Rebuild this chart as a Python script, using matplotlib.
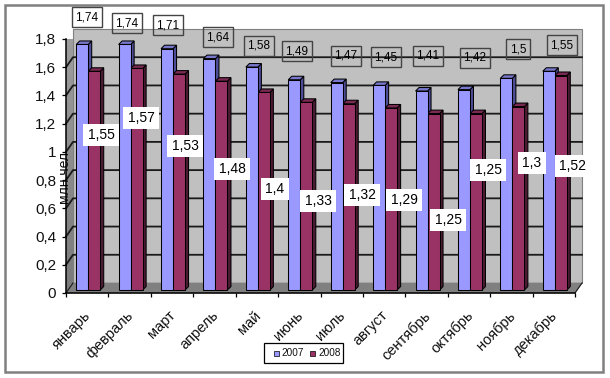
import matplotlib
matplotlib.use("Agg")
import matplotlib.pyplot as plt
import numpy as np
from matplotlib.patches import Polygon, Rectangle
from matplotlib.transforms import Affine2D

plt.rcParams['font.family'] = ['Liberation Sans', 'DejaVu Sans']

months = ["январь", "февраль", "март", "апрель", "май", "июнь", "июль",
          "август", "сентябрь", "октябрь", "ноябрь", "декабрь"]
v2007 = [1.74, 1.74, 1.71, 1.64, 1.58, 1.49, 1.47, 1.45, 1.41, 1.42, 1.5, 1.55]
v2008 = [1.55, 1.57, 1.53, 1.48, 1.4, 1.33, 1.32, 1.29, 1.25, 1.25, 1.3, 1.52]
yticks = [0, 0.2, 0.4, 0.6, 0.8, 1, 1.2, 1.4, 1.6, 1.8]

# hand placed label centres, in image pixels
pos2007 = [(87, 17), (127, 23), (168, 25), (218, 37), (259, 46), (297, 51),
           (346, 56), (386, 57), (428, 56), (475, 58), (518, 49), (562, 45)]
pos2008 = [(101, 135), (141, 118), (185, 146), (232, 169), (275, 189), (318, 201),
           (362, 195), (404, 200), (448, 220), (488, 170), (532, 163), (573, 166)]

W, H = 610, 378
L, R, T, B = 66, 575, 39, 293
sx = (R - L) / 12.0   # px per category
sy = (B - T) / 1.8    # px per unit

wall_dx, wall_dy = 7 / sx, 10 / sy
bar_dx, bar_dy = 1 / sx, 3 / sy
dep_x, dep_y = 3.5 / sx, 3.5 / sy
bar_w = 12 / sx


def fmt(v):
    return str(v).replace(".", ",")


def draw_bar(ax, x, v, face, top, side):
    x0 = x + bar_dx
    y0 = bar_dy
    y1 = v + bar_dy
    ax.add_patch(Polygon([(x0 + bar_w, y0), (x0 + bar_w + dep_x, y0 + dep_y),
                          (x0 + bar_w + dep_x, y1 + dep_y), (x0 + bar_w, y1)],
                         fc=side, ec="black", lw=0.75, zorder=4, clip_on=False))
    ax.add_patch(Polygon([(x0, y1), (x0 + dep_x, y1 + dep_y),
                          (x0 + bar_w + dep_x, y1 + dep_y), (x0 + bar_w, y1)],
                         fc=top, ec="black", lw=0.75, zorder=4, clip_on=False))
    ax.bar(x0, v, bar_w, bottom=y0, align="edge", color=face, ec="black", lw=0.75,
           zorder=5, clip_on=False)


fig = plt.figure(figsize=(W / 100, H / 100), dpi=100, facecolor="white")
ax = fig.add_axes([L / W, 1 - B / H, (R - L) / W, (B - T) / H])
ax.patch.set_visible(False)
px = Affine2D().scale(1, -1).translate(0, H)

# outer frame of the chart area
fig.add_artist(Rectangle((5, 5), 598, 367, transform=px, fc="white", ec="#808080", lw=1.8,
                         zorder=-5))

# walls and floor
ax.add_patch(Rectangle((wall_dx, wall_dy), 12, 1.8, fc="#C0C0C0", ec="#808080", lw=0.8,
                       zorder=1, clip_on=False))
side_wall = Polygon([(0, 0), (wall_dx, wall_dy), (wall_dx, 1.8 + wall_dy), (0, 1.8)],
                    fc="none", ec="none", transform=ax.transData, clip_on=False)
ax.add_patch(side_wall)
shade = ax.imshow(np.linspace(0.62, 0.48, 64).reshape(-1, 1), cmap="gray", vmin=0, vmax=1,
                  extent=(0, wall_dx, 0, 1.8 + wall_dy), origin="upper", aspect="auto", zorder=1)
shade.set_clip_path(side_wall)
ax.add_patch(Polygon([(0, 0), (12, 0), (12 + wall_dx, wall_dy), (wall_dx, wall_dy)],
                     fc="#808080", ec="#808080", lw=0.5, zorder=1, clip_on=False))
for t in yticks[1:-1]:
    ax.plot([0, wall_dx, 12 + wall_dx], [t, t + wall_dy, t + wall_dy], color="#1a1a1a",
            lw=1.3, zorder=2, clip_on=False)
ax.plot([0, wall_dx], [0, wall_dy], color="#1a1a1a", lw=0.8, zorder=2, clip_on=False)
ax.plot([12, 12 + wall_dx], [0, wall_dy], color="#1a1a1a", lw=0.8, zorder=2, clip_on=False)

for i in range(12):
    x = i + 0.5
    draw_bar(ax, x - bar_w, v2007[i], "#9999FF", "#7777CC", "#4D4D99")
    draw_bar(ax, x, v2008[i], "#993366", "#7A2952", "#4D1A33")

ax.set_xlim(0, 12)
ax.set_ylim(0, 1.8)

# axes
for s in ["top", "right"]:
    ax.spines[s].set_visible(False)
for s in ["left", "bottom"]:
    ax.spines[s].set_linewidth(1.1)
    ax.spines[s].set_zorder(6)
ax.set_yticks(yticks)
ax.set_yticklabels([fmt(t) for t in yticks], fontsize=11, color="#111111")
ax.set_xticks(range(13))
ax.set_xticklabels([])
ax.tick_params(axis="y", length=3, width=0.9, pad=4)
ax.tick_params(axis="x", length=3, width=0.9)
for i, m in enumerate(months):
    ax.annotate(m, (i + 0.42, 0), xytext=(0, -11), textcoords="offset points", rotation=45,
                rotation_mode="anchor", ha="right", va="top", fontsize=10.5, color="#111111",
                annotation_clip=False)

ax.text(64, 177, "млн.чел", transform=px, rotation=90, ha="center", va="center",
        fontsize=10, color="#111111", zorder=3)

# data labels
for p, v in zip(pos2007, v2007):
    ax.text(p[0], p[1], fmt(v), transform=px, ha="center", va="center", fontsize=8.5,
            color="black", zorder=8, clip_on=False,
            bbox=dict(boxstyle="square,pad=0.3", fc="none", ec="#444444", lw=1.0))
for p, v in zip(pos2008, v2008):
    ax.text(p[0], p[1], fmt(v), transform=px, ha="center", va="center", fontsize=10,
            color="black", zorder=8, clip_on=False,
            bbox=dict(boxstyle="square,pad=0.3", fc="white", ec="none"))

# legend
fig.add_artist(Rectangle((264, 343), 79, 20, transform=px, fc="white", ec="black", lw=0.9))
fig.add_artist(Rectangle((273.5, 351), 5, 5, transform=px, fc="#9999FF", ec="black", lw=0.5))
fig.add_artist(Rectangle((310, 351), 5, 5, transform=px, fc="#993366", ec="black", lw=0.5))
fig.text(281.5, 353.5, "2007", transform=px, ha="left", va="center", fontsize=7.2, color="#111111")
fig.text(318, 353.5, "2008", transform=px, ha="left", va="center", fontsize=7.2, color="#111111")

fig.savefig("out.png", dpi=100, facecolor="white")
